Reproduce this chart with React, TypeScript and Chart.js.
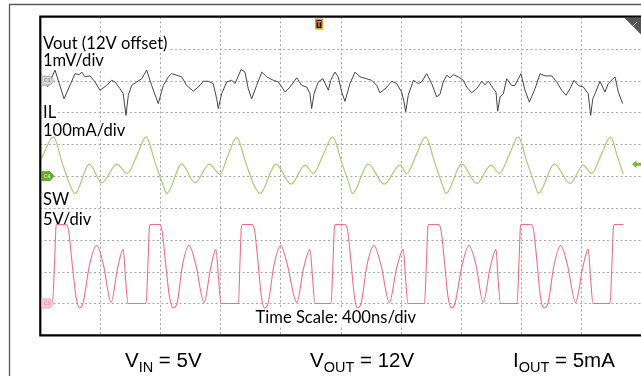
import { useEffect, useRef } from 'react';
import { Chart, registerables } from 'chart.js';

Chart.register(...registerables);

// Time axis: 400 ns/div, 10 divisions
const timeMinNs = 0;
const timeMaxNs = 4000;
const timeDivNs = 400;

// Vout (12V offset), mV, 1 mV/div
const voutT = [49, 100, 160, 233, 262, 278, 300, 333, 366, 399, 444, 477, 499, 532, 554, 572, 588, 610, 644, 677, 710, 743, 787, 821, 854, 877, 910, 943, 976, 1020, 1054, 1087, 1120, 1153, 1176, 1187, 1209, 1243, 1276, 1298, 1338, 1364, 1386, 1409, 1442, 1476, 1509, 1553, 1586, 1609, 1631, 1664, 1709, 1742, 1775, 1797, 1808, 1824, 1852, 1882, 1904, 1919, 1935, 1963, 1985, 2008, 2030, 2063, 2097, 2130, 2174, 2208, 2241, 2263, 2303, 2341, 2374, 2407, 2423, 2434, 2451, 2485, 2518, 2540, 2574, 2607, 2640, 2662, 2684, 2707, 2729, 2751, 2784, 2817, 2840, 2873, 2907, 2940, 2962, 2984, 3017, 3035, 3046, 3062, 3084, 3106, 3139, 3161, 3183, 3201, 3228, 3257, 3295, 3328, 3361, 3406, 3439, 3472, 3501, 3528, 3554, 3583, 3616, 3649, 3665, 3679, 3694, 3727, 3760, 3782, 3827, 3849, 3878];
const voutMv = [-0.20, 0.33, -0.57, 0.22, 0.19, 0.27, 0.12, 0.15, -0.04, -0.30, -0.15, 0.01, -0.04, -0.25, -0.41, -1.09, -0.46, -0.15, -0.04, 0.06, 0.33, -0.15, -0.72, -0.15, 0.12, 0.22, 0.17, 0.12, -0.15, -0.33, -0.20, -0.02, -0.02, -0.09, -0.57, -0.88, -0.41, -0.04, 0.01, -0.09, 0.35, 0.27, -0.25, -0.57, -0.15, 0.27, 0.12, 0.01, -0.04, -0.20, -0.36, -0.20, 0.09, -0.15, -0.20, -0.41, -0.88, -0.41, -0.04, 0.06, -0.15, -0.30, 0.01, 0.27, 0.12, -0.36, -0.65, -0.09, 0.27, 0.12, 0.06, 0.01, -0.15, -0.38, -0.23, -0.02, -0.09, -0.36, -0.67, -0.98, -0.46, 0.01, -0.09, -0.04, 0.22, -0.09, -0.51, -0.43, -0.04, 0.17, 0.09, 0.19, 0.12, 0.01, -0.20, -0.38, -0.25, -0.02, -0.13, -0.02, -0.25, -0.36, -0.96, -0.51, -0.41, 0.06, -0.15, -0.15, 0.06, 0.22, -0.30, -0.67, -0.25, 0.22, 0.15, 0.15, -0.04, -0.30, -0.46, -0.25, 0.01, -0.15, -0.20, -0.41, -1.09, -0.57, -0.41, -0.02, -0.36, -0.09, 0.12, -0.36, -0.72];

// Inductor current IL, mA, 100 mA/div
const ilT = [11, 89, 146, 200, 233, 328, 411, 511, 581, 646, 706, 765, 819, 843, 943, 1032, 1127, 1198, 1251, 1309, 1368, 1424, 1464, 1571, 1671, 1764, 1819, 1884, 1948, 2007, 2060, 2079, 2185, 2290, 2396, 2441, 2503, 2567, 2626, 2679, 2702, 2807, 2907, 3002, 3057, 3122, 3183, 3241, 3295, 3317, 3423, 3528, 3616, 3672, 3734, 3798, 3840, 3882];
const ilMa = [56.6, 123.5, 44, -28.3, -54.4, 37.7, -21, 37.7, 8.5, 66, 123.5, 44, -28.3, -54.4, 37.7, -21, 37.7, 6.3, 66, 121.6, 44, -28.3, -54.4, 37.7, -25.1, 34.6, 8.5, 66, 123.5, 44, -28.3, -54.4, 37.7, -25.1, 34.6, 8.5, 66, 123.5, 44, -28.3, -54.4, 37.7, -23, 34.6, 8.5, 66, 123.5, 44, -28.3, -54.4, 37.7, -23, 34.6, 8.5, 66, 123.5, 66, 6.3];

// Switch node SW, V, 5 V/div
const swT = [27, 83, 97, 107, 113, 173, 190, 213, 240, 263, 286, 329, 377, 423, 473, 516, 554, 569, 586,
  706, 719, 729, 735, 795, 812, 835, 862, 887, 912, 948, 992, 1038, 1092, 1135, 1171, 1188, 1205,
  1321, 1331, 1341, 1348, 1411, 1428, 1451, 1474, 1494, 1518, 1557, 1602, 1647, 1709, 1754, 1797, 1814, 1830,
  1937, 1950, 1960, 1967, 2030, 2047, 2070, 2093, 2113, 2137, 2176, 2223, 2270, 2325, 2373, 2418, 2433, 2449,
  2559, 2572, 2582, 2589, 2652, 2669, 2692, 2716, 2740, 2762, 2809, 2855, 2902, 2950, 2995, 3035, 3048, 3065,
  3175, 3188, 3198, 3205, 3268, 3285, 3308, 3331, 3356, 3381, 3421, 3466, 3511, 3565, 3611, 3649, 3664, 3681,
  3794, 3807, 3817, 3824, 3882];
const swV = [0, 0, 6.5, 12.1, 12.4, 12.4, 11.5, 6.5, 1.0, -0.7, 0, 6.0, 9.1, 6.0, 0.15, 5.5, 8.5, 4.0, 0,
  0, 6.5, 12.1, 12.4, 12.4, 11.5, 6.5, 1.0, -0.7, 0, 6.0, 9.1, 6.0, 0.15, 5.5, 8.5, 4.0, 0,
  0, 6.5, 12.1, 12.4, 12.4, 11.5, 6.5, 1.0, -0.7, 0, 6.0, 9.1, 6.0, 0.15, 5.5, 8.5, 4.0, 0,
  0, 6.5, 12.1, 12.4, 12.4, 11.5, 6.5, 1.0, -0.7, 0, 6.0, 9.1, 6.0, 0.15, 5.5, 8.5, 4.0, 0,
  0, 6.5, 12.1, 12.4, 12.4, 11.5, 6.5, 1.0, -0.7, 0, 6.0, 9.1, 6.0, 0.15, 5.5, 8.5, 4.0, 0,
  0, 6.5, 12.1, 12.4, 12.4, 11.5, 6.5, 1.0, -0.7, 0, 6.0, 9.1, 6.0, 0.15, 5.5, 8.5, 4.0, 0,
  0, 6.5, 12.1, 12.4, 12.4];

// Texts
const channelLabels = ['Vout (12V offset)', '1mV/div', 'IL', '100mA/div', 'SW', '5V/div'];
const timeScaleLabel = 'Time Scale: 400ns/div';
const condMain = ['V', 'V', 'I'];
const condSub = ['IN', 'OUT', 'OUT'];
const condRest = [' = 5V', ' = 12V', ' = 5mA'];
const channelTags = ['C1', 'C4', 'C3'];
const triggerTimeNs = 1857;
const triggerLevelMa = 37.7;

const LABEL_FONT = '16.6px Lato';
const COND_FONT = '20.5px "Liberation Sans"';
const COND_SUB_FONT = '14.5px "Liberation Sans"';

const scopePlugin = {
  id: 'scope',
  beforeDatasetsDraw(chart: any) {
    const { ctx, chartArea: a, scales } = chart;
    const x = scales.x;
    const yS = scales.yS;
    ctx.save();
    // dotted grid
    ctx.strokeStyle = '#a6a6a6';
    ctx.lineWidth = 1;
    ctx.setLineDash([2, 2.5]);
    for (let i = 1; i < 10; i++) {
      const px = Math.round(x.getPixelForValue(timeMinNs + i * timeDivNs)) + 0.5;
      ctx.beginPath();
      ctx.moveTo(px, a.top);
      ctx.lineTo(px, a.bottom);
      ctx.stroke();
    }
    for (let i = 1; i < 10; i++) {
      const py = Math.round(yS.getPixelForValue(-5 + i * 5)) + 0.5;
      ctx.beginPath();
      ctx.moveTo(a.left, py);
      ctx.lineTo(a.right, py);
      ctx.stroke();
    }
    ctx.setLineDash([]);
    // channel labels with white backing
    const baselines = [49, 65.5, 118.3, 136, 205, 224.5];
    ctx.font = LABEL_FONT;
    ctx.textBaseline = 'alphabetic';
    channelLabels.forEach((t, i) => {
      const w = ctx.measureText(t).width;
      ctx.fillStyle = '#ffffff';
      ctx.fillRect(a.left + 1.5, baselines[i] - 13, w + 3, 16);
      ctx.fillStyle = '#000000';
      ctx.fillText(t, a.left + 3, baselines[i]);
    });
    const tw = ctx.measureText(timeScaleLabel).width;
    ctx.fillStyle = '#ffffff';
    ctx.fillRect(254, 309, tw + 3, 17);
    ctx.fillStyle = '#000000';
    ctx.fillText(timeScaleLabel, 255.5, 322.5);
    ctx.restore();
  },
  afterDraw(chart: any) {
    const { ctx, chartArea: a, scales } = chart;
    ctx.save();
    // outer frame
    ctx.strokeStyle = '#5a5a5a';
    ctx.lineWidth = 1.3;
    ctx.beginPath();
    ctx.moveTo(9.5, 376);
    ctx.lineTo(9.5, 4.5);
    ctx.lineTo(641, 4.5);
    ctx.stroke();
    // plot border
    ctx.strokeStyle = '#000000';
    ctx.lineWidth = 2.2;
    ctx.beginPath();
    ctx.moveTo(a.right + 2, a.top - 0.3);
    ctx.lineTo(a.left + 0.3, a.top - 0.3);
    ctx.lineTo(a.left + 0.3, a.bottom);
    ctx.lineTo(a.right + 2, a.bottom);
    ctx.stroke();

    // channel tags on the left
    const tagLevels = [scales.yV.getPixelForValue(0), scales.yI.getPixelForValue(0), scales.yS.getPixelForValue(0)];
    const tagFill = ['#d4d4d4', '#6aab23', '#f8cbd3'];
    const tagStroke = ['#9a9a9a', '#5a9a18', '#eaa0ae'];
    const tagText = ['#777777', '#ffffff', '#e07a8e'];
    tagLevels.forEach((y, i) => {
      const l = a.left + 1.5;
      ctx.beginPath();
      ctx.moveTo(l, y - 4.5);
      ctx.lineTo(l + 8.5, y - 4.5);
      ctx.lineTo(l + 12.5, y);
      ctx.lineTo(l + 8.5, y + 4.5);
      ctx.lineTo(l, y + 4.5);
      ctx.closePath();
      ctx.fillStyle = tagFill[i];
      ctx.fill();
      ctx.lineWidth = 0.8;
      ctx.strokeStyle = tagStroke[i];
      ctx.stroke();
      ctx.font = '5px "DejaVu Sans"';
      ctx.fillStyle = tagText[i];
      ctx.textBaseline = 'middle';
      ctx.fillText(channelTags[i], l + 2.5, y + 0.5);
    });

    // trigger time marker (top)
    const tx = scales.x.getPixelForValue(triggerTimeNs);
    ctx.fillStyle = '#f39a1e';
    ctx.fillRect(tx - 4, a.top + 1.5, 8, 11);
    ctx.fillStyle = '#1a1a1a';
    ctx.fillRect(tx - 2.5, a.top + 3, 5, 8);
    ctx.fillStyle = '#f39a1e';
    ctx.fillRect(tx - 2, a.top + 4, 4, 1.2);
    ctx.fillRect(tx - 0.6, a.top + 4, 1.2, 6);

    // trigger level arrow (right)
    const ty = scales.yI.getPixelForValue(triggerLevelMa);
    ctx.fillStyle = '#7cb83a';
    ctx.beginPath();
    ctx.moveTo(632, ty);
    ctx.lineTo(636.5, ty - 4);
    ctx.lineTo(636.5, ty - 1.5);
    ctx.lineTo(641, ty - 1.5);
    ctx.lineTo(641, ty + 1.5);
    ctx.lineTo(636.5, ty + 1.5);
    ctx.lineTo(636.5, ty + 4);
    ctx.closePath();
    ctx.fill();

    // corner triangle (top right)
    ctx.fillStyle = '#555555';
    ctx.beginPath();
    ctx.moveTo(624.5, a.top + 1);
    ctx.lineTo(641, a.top + 1);
    ctx.lineTo(641, a.top + 17.5);
    ctx.closePath();
    ctx.fill();
    ctx.strokeStyle = '#bdbdbd';
    ctx.lineWidth = 1;
    ctx.beginPath();
    ctx.moveTo(633, a.top + 9);
    ctx.lineTo(637, a.top + 5);
    ctx.stroke();

    // operating conditions below the plot
    const starts = [125, 310, 513];
    const base = 366.5;
    ctx.textBaseline = 'alphabetic';
    ctx.fillStyle = '#000000';
    condMain.forEach((m, i) => {
      let cx = starts[i];
      ctx.font = COND_FONT;
      ctx.fillText(m, cx, base);
      cx += ctx.measureText(m).width;
      ctx.font = COND_SUB_FONT;
      ctx.fillText(condSub[i], cx, base + 5);
      cx += ctx.measureText(condSub[i]).width;
      ctx.font = COND_FONT;
      ctx.fillText(condRest[i], cx, base);
    });
    ctx.restore();
  },
};

export default function App() {
  const ref = useRef<HTMLCanvasElement | null>(null);
  useEffect(() => {
    if (!ref.current) return;
    const chart = new Chart(ref.current, {
      type: 'line',
      data: {
        datasets: [
          {
            label: 'Vout',
            data: voutT.map((t, i) => ({ x: t, y: voutMv[i] })),
            yAxisID: 'yV',
            borderColor: '#444444',
            borderWidth: 1,
            pointRadius: 0,
            tension: 0,
          },
          {
            label: 'IL',
            data: ilT.map((t, i) => ({ x: t, y: ilMa[i] })),
            yAxisID: 'yI',
            borderColor: '#a9cd72',
            borderWidth: 1.2,
            pointRadius: 0,
            cubicInterpolationMode: 'monotone',
          },
          {
            label: 'SW',
            data: swT.map((t, i) => ({ x: t, y: swV[i] })),
            yAxisID: 'yS',
            borderColor: '#ee6f87',
            borderWidth: 1.1,
            pointRadius: 0,
            cubicInterpolationMode: 'monotone',
          },
        ],
      },
      options: {
        animation: false,
        responsive: false,
        devicePixelRatio: 1,
        events: [],
        layout: { padding: { left: 40, top: 17, right: 0, bottom: 40.7 } },
        plugins: { legend: { display: false }, tooltip: { enabled: false } },
        scales: {
          x: { type: 'linear', min: timeMinNs, max: timeMaxNs, display: false },
          yV: { type: 'linear', min: -8, max: 2, display: false },
          yI: { type: 'linear', min: -500, max: 500, display: false },
          yS: { type: 'linear', min: -5, max: 45, display: false },
        },
      },
      plugins: [scopePlugin],
    } as any);
    return () => chart.destroy();
  }, []);
  return (
    <div style={{ position: 'fixed', left: 0, top: 0, width: 641, height: 376, background: '#fff', overflow: 'hidden' }}>
      <canvas ref={ref} width={641} height={376} style={{ width: 641, height: 376, display: 'block' }} />
    </div>
  );
}
